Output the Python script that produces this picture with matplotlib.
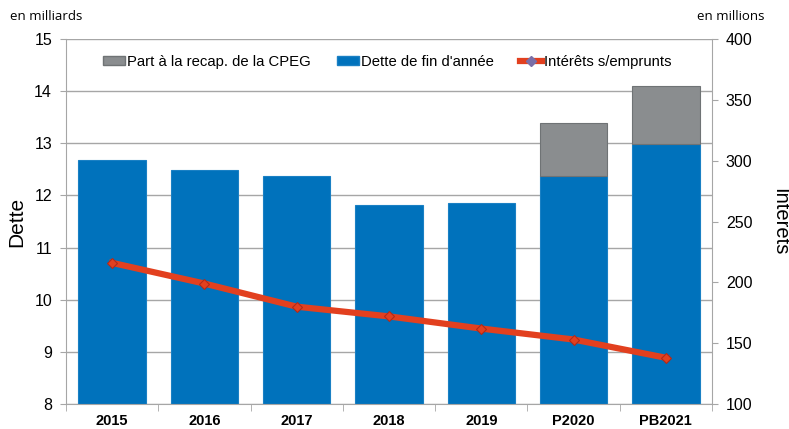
import numpy as np
import matplotlib.pyplot as plt
from matplotlib.patches import Patch
from matplotlib.lines import Line2D

# Données
annees = ['2015', '2016', '2017', '2018', '2019', 'P2020', 'PB2021']
dette_fin = [12.68, 12.48, 12.38, 11.82, 11.85, 12.38, 12.99]
part_cpeg = [0, 0, 0, 0, 0, 1.01, 1.11]
interets = [216, 199, 180, 172, 162, 153, 138]

bleu = '#0072BC'
gris = '#8A8D8F'
rouge = '#E2401F'
base = 8

plt.rcParams['font.family'] = ['Liberation Sans', 'DejaVu Sans']

fig = plt.figure(figsize=(7.89, 4.29), dpi=100)
ax = fig.add_axes([66 / 789, 25 / 429, 646 / 789, 365 / 429])
x = np.arange(len(annees))

ax.set_axisbelow(True)
ax.yaxis.grid(True, color='#A6A6A6', lw=1)
ax.bar(x, np.array(dette_fin) - base, bottom=base, width=0.73, color=bleu,
       edgecolor='#1A80C4', lw=0.8, zorder=2)
idx = [i for i, v in enumerate(part_cpeg) if v > 0]
ax.bar(x[idx], [part_cpeg[i] for i in idx], bottom=[dette_fin[i] for i in idx], width=0.73,
       color=gris, edgecolor='#6F7375', lw=0.8, zorder=2)

ax.set_ylim(8, 15)
ax.set_xlim(-0.5, len(annees) - 0.5)
ax.set_yticks(range(8, 16))
ax.set_xticks(x)
ax.set_xticklabels(annees, fontweight='bold', fontsize=10.5)
ax.set_xticks(np.arange(-0.5, len(annees)), minor=True)
ax.tick_params(axis='x', which='major', length=0, pad=7)
ax.tick_params(axis='x', which='minor', length=5, color='#A6A6A6')
ax.tick_params(axis='y', length=4, color='#A6A6A6', labelsize=11.5, pad=6)
for s in ['top', 'right']:
    ax.spines[s].set_visible(False)
for s in ['left', 'bottom']:
    ax.spines[s].set_color('#A6A6A6')
ax.set_ylabel('Dette', fontsize=15, labelpad=6)

ax2 = ax.twinx()
ax2.plot(x, interets, color=rouge, lw=4.5, marker='D', markersize=5.5,
         markerfacecolor=rouge, markeredgecolor='#B02A1A', markeredgewidth=0.8, zorder=3)
ax2.set_ylim(100, 400)
ax2.set_yticks(range(100, 401, 50))
ax2.tick_params(axis='y', length=4, color='#A6A6A6', labelsize=11.5, pad=6)
for s in ['top', 'left', 'bottom']:
    ax2.spines[s].set_visible(False)
ax2.spines['right'].set_color('#A6A6A6')
ax2.set_ylabel('Intérêts', fontsize=14.5, rotation=270, va='center', ha='center')
ax2.yaxis.set_label_coords((780 - 66) / 646, 0.5)

fig.text(10 / 789, 1 - 17 / 429, 'en milliards', fontsize=9.5, family='Open Sans', va='center')
fig.text(697 / 789, 1 - 17 / 429, 'en millions', fontsize=9.5, family='Open Sans', va='center')

handles = [Patch(facecolor=gris, edgecolor='#6F7375'),
           Patch(facecolor=bleu, edgecolor='#1A80C4'),
           Line2D([], [], color=rouge, lw=4.5, marker='D', markersize=5,
                  markerfacecolor='#7A6FA8', markeredgecolor='#7A6FA8')]
ax2.legend(handles, ['Part à la recap. de la CPEG', "Dette de fin d'année", 'Intérêts s/emprunts'],
           loc='center left', bbox_to_anchor=((103 - 66) / 646, (404 - 62) / 365), ncol=3,
           frameon=False, borderpad=0, borderaxespad=0,
           fontsize=10.7, handlelength=1.5, handleheight=0.5, handletextpad=0.12,
           columnspacing=1.75)

fig.savefig('out.png', dpi=100)
